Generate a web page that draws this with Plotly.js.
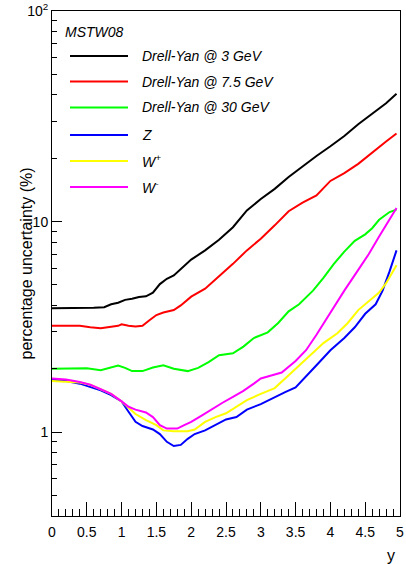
<!DOCTYPE html>
<html>
<head>
<meta charset="utf-8">
<script src="https://cdn.plot.ly/plotly-3.0.1.min.js"></script>
<style>html,body{margin:0;padding:0;background:#fff;}#chart{width:406px;height:564px;}</style>
</head>
<body>
<div id="chart"></div>
<script>
// ---- data ----
const seriesNames = ["Drell-Yan @ 3 GeV", "Drell-Yan @ 7.5 GeV", "Drell-Yan @ 30 GeV", "Z", "W<sup>+</sup>", "W<sup>-</sup>"];
const seriesColors = ["#000000", "#ff0000", "#00ff00", "#0000ff", "#ffff00", "#ff00ff"];

const dy3X = [0,0.2,0.4,0.6,0.75,0.85,0.95,1.05,1.15,1.25,1.35,1.45,1.55,1.65,1.75,1.85,2.0,2.2,2.4,2.6,2.8,3.0,3.2,3.4,3.6,3.8,4.0,4.2,4.4,4.6,4.8,4.95];
const dy3Y = [3.88,3.88,3.9,3.9,3.92,4.05,4.12,4.25,4.3,4.38,4.42,4.6,5.05,5.35,5.55,5.95,6.6,7.3,8.2,9.4,11.3,12.8,14.3,16.3,18.3,20.5,22.8,25.5,29.0,32.5,36.5,40.5];

const dy75X = [0,0.2,0.4,0.55,0.7,0.85,0.95,1.0,1.1,1.2,1.3,1.4,1.5,1.6,1.75,1.85,2.0,2.2,2.4,2.6,2.8,3.0,3.2,3.4,3.6,3.8,4.0,4.2,4.4,4.6,4.8,4.95];
const dy75Y = [3.2,3.2,3.2,3.15,3.12,3.17,3.2,3.25,3.2,3.18,3.2,3.4,3.6,3.7,3.8,4.0,4.4,4.8,5.5,6.3,7.3,8.3,9.6,11.2,12.3,13.3,15.6,17.0,18.8,21.3,24.0,26.2];

const dy30X = [0,0.3,0.5,0.7,0.85,0.95,1.05,1.15,1.3,1.45,1.6,1.75,1.95,2.1,2.25,2.4,2.6,2.75,2.9,3.1,3.25,3.4,3.55,3.75,3.9,4.05,4.2,4.35,4.5,4.6,4.7,4.85,4.95];
const dy30Y = [2.0,2.0,2.01,1.97,2.02,2.07,2.02,1.95,1.95,2.03,2.08,2.0,1.95,2.02,2.15,2.32,2.37,2.55,2.8,2.98,3.3,3.75,4.05,4.7,5.4,6.3,7.2,8.1,8.7,9.3,10.2,11.1,11.4];

const zX = [0,0.2,0.4,0.55,0.7,0.85,1.0,1.1,1.2,1.3,1.45,1.55,1.65,1.75,1.85,1.95,2.05,2.2,2.35,2.5,2.65,2.8,3.0,3.2,3.35,3.5,3.65,3.8,4.0,4.2,4.35,4.5,4.65,4.75,4.85,4.95];
const zY = [1.78,1.75,1.7,1.64,1.58,1.5,1.4,1.25,1.12,1.07,1.03,0.98,0.9,0.86,0.87,0.93,0.98,1.02,1.08,1.15,1.18,1.28,1.36,1.47,1.55,1.63,1.85,2.08,2.45,2.8,3.15,3.65,4.05,4.7,5.8,7.3];

const wpX = [0,0.2,0.4,0.55,0.7,0.85,1.0,1.1,1.2,1.35,1.5,1.6,1.75,1.95,2.05,2.2,2.35,2.5,2.65,2.8,3.0,3.2,3.35,3.5,3.7,3.9,4.1,4.25,4.4,4.55,4.7,4.8,4.95];
const wpY = [1.75,1.73,1.72,1.68,1.6,1.52,1.4,1.3,1.22,1.14,1.08,1.02,1.01,1.01,1.03,1.12,1.18,1.23,1.32,1.42,1.52,1.62,1.8,2.0,2.3,2.65,2.95,3.3,3.8,4.2,4.6,5.1,6.2];

const wmX = [0,0.2,0.4,0.55,0.7,0.85,1.0,1.1,1.2,1.35,1.45,1.55,1.65,1.8,1.9,2.0,2.15,2.3,2.45,2.6,2.75,2.9,3.0,3.15,3.3,3.5,3.65,3.8,4.0,4.2,4.4,4.55,4.7,4.85,4.95];
const wmY = [1.8,1.78,1.73,1.68,1.6,1.52,1.4,1.32,1.28,1.24,1.18,1.08,1.04,1.04,1.08,1.12,1.2,1.29,1.38,1.47,1.57,1.7,1.8,1.86,1.92,2.18,2.45,2.9,3.7,4.7,5.9,7.0,8.5,10.2,11.6];

const xTickVals = [0,0.5,1,1.5,2,2.5,3,3.5,4,4.5,5];
const xTickText = ["0","0.5","1","1.5","2","2.5","3","3.5","4","4.5","5"];
const yTickVals = [1,10,100];
const yTickText = ["1","10","10<sup>2</sup>"];
const yMinorVals = [0.4,0.5,0.6,0.7,0.8,0.9,2,3,4,5,6,7,8,9,20,30,40,50,60,70,80,90];
const labelText = "MSTW08";
const xTitle = "y";
const yTitle = "percentage uncertainty (%)";

// ---- build ----
const xs = [dy3X, dy75X, dy30X, zX, wpX, wmX];
const ys = [dy3Y, dy75Y, dy30Y, zY, wpY, wmY];
const traces = xs.map((x, i) => ({
  x: x, y: ys[i], type: "scatter", mode: "lines", name: seriesNames[i],
  line: {color: seriesColors[i], width: 2}, showlegend: false, hoverinfo: "skip"
}));

const FONT = "Liberation Sans, Arial, Helvetica, sans-serif";
const L = 52, R = 400, T = 11, B = 516;
const px2x = p => (p - L) / (R - L);
const py2y = p => (B - p) / (B - T);

const legendRows = [56, 81.5, 107.5, 135, 161, 187];
const shapes = [];
const annotations = [];
seriesNames.forEach((n, i) => {
  shapes.push({type: "line", xref: "paper", yref: "paper",
    x0: px2x(70), x1: px2x(128), y0: py2y(legendRows[i]), y1: py2y(legendRows[i]),
    line: {color: seriesColors[i], width: 2}});
  annotations.push({xref: "paper", yref: "paper", x: px2x(140), y: py2y(legendRows[i]),
    xanchor: "left", yanchor: "middle", showarrow: false,
    text: "<i>" + n + "</i>", font: {family: FONT, size: 14, color: "#000"}});
});
annotations.push({xref: "paper", yref: "paper", x: px2x(63), y: py2y(32),
  xanchor: "left", yanchor: "middle", showarrow: false,
  text: "<i>" + labelText + "</i>", font: {family: FONT, size: 14, color: "#000"}});
annotations.push({xref: "paper", yref: "paper", x: px2x(26), y: 0.5,
  xanchor: "center", yanchor: "middle", showarrow: false, textangle: -90,
  text: yTitle, font: {family: FONT, size: 16, color: "#000"}});
annotations.push({xref: "paper", yref: "paper", x: px2x(391), y: py2y(555),
  xanchor: "center", yanchor: "middle", showarrow: false,
  text: xTitle, font: {family: FONT, size: 16, color: "#000"}});

const layout = {
  width: 406, height: 564,
  margin: {l: L, r: 406 - R, t: T, b: 564 - B, pad: 0},
  paper_bgcolor: "#fff", plot_bgcolor: "#fff",
  font: {family: FONT, size: 14, color: "#000"},
  showlegend: false,
  xaxis: {
    range: [0, 5], tickmode: "array", tickvals: xTickVals, ticktext: xTickText,
    ticks: "inside", ticklen: 14, tickwidth: 1, tickcolor: "#000",
    showline: true, linecolor: "#000", linewidth: 1, mirror: true,
    showgrid: false, zeroline: false, tickfont: {family: FONT, size: 14},
    ticklabelstandoff: 3,
    minor: {dtick: 0.1, ticks: "inside", ticklen: 7, tickcolor: "#000", showgrid: false}
  },
  yaxis: {
    type: "log", range: [Math.log10(0.4), 2], tickmode: "array", tickvals: yTickVals, ticktext: yTickText,
    ticks: "inside", ticklen: 10, tickwidth: 1, tickcolor: "#000",
    showline: true, linecolor: "#000", linewidth: 1, mirror: true,
    showgrid: false, zeroline: false, tickfont: {family: FONT, size: 14},
    minor: {tickmode: "array", tickvals: yMinorVals, ticks: "inside", ticklen: 5, tickcolor: "#000", showgrid: false}
  },
  shapes: shapes,
  annotations: annotations
};

Plotly.newPlot("chart", traces, layout, {staticPlot: true, displayModeBar: false});
</script>
</body>
</html>
